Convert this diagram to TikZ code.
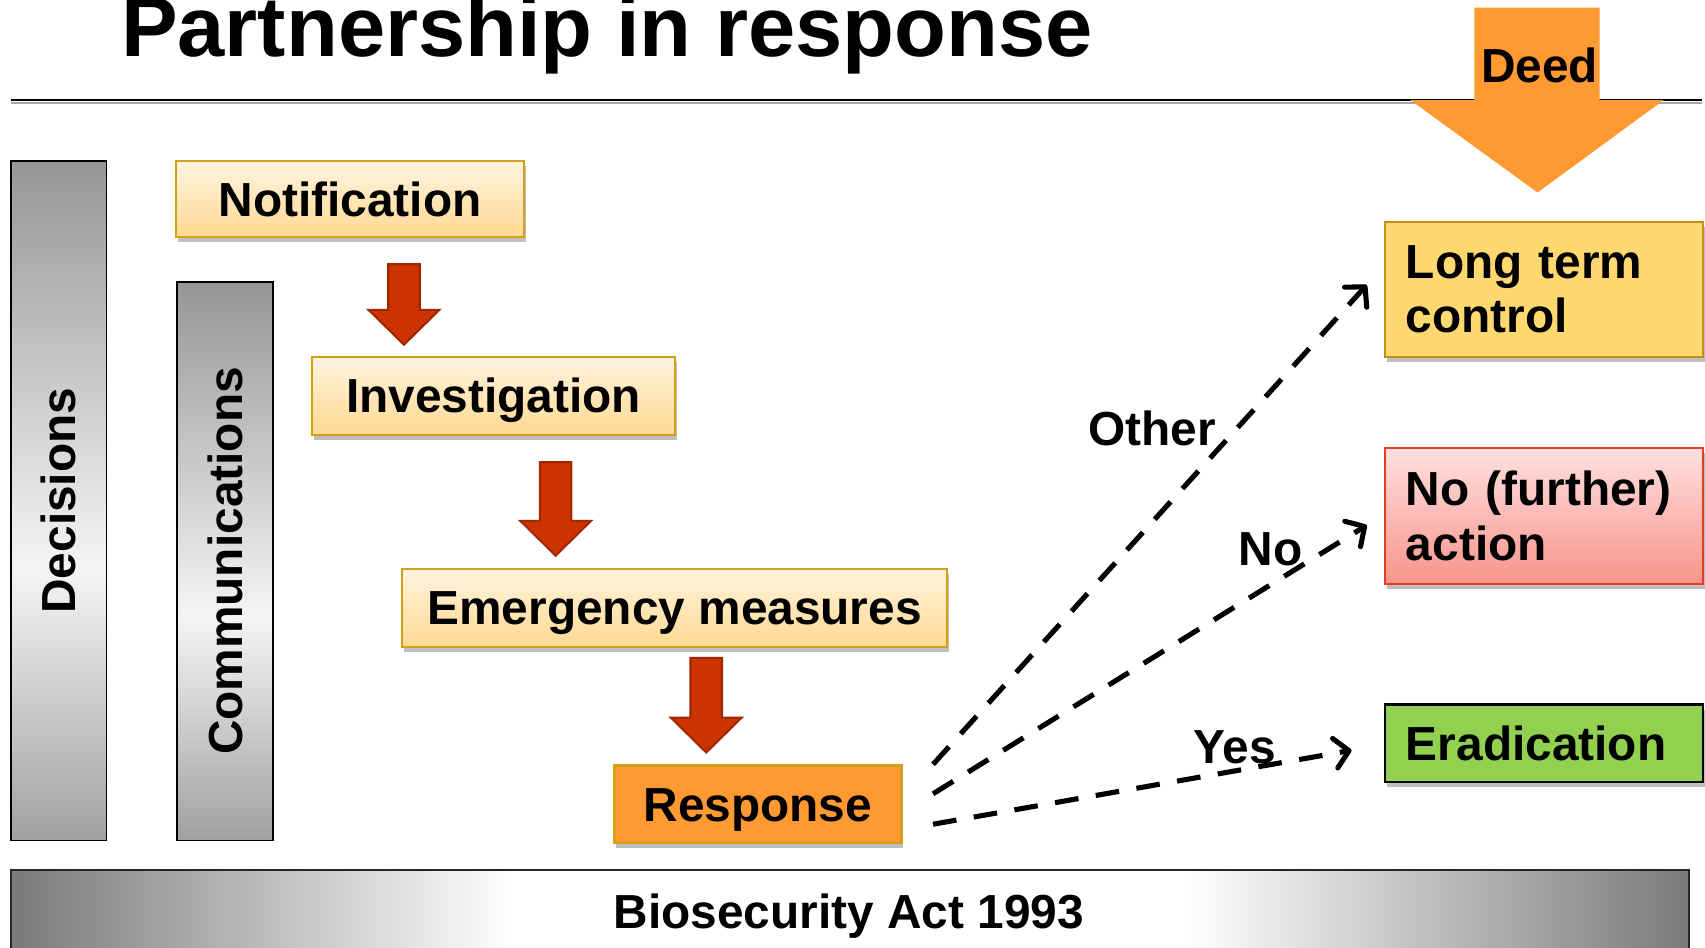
\documentclass[tikz,border=0pt]{standalone}
\usepackage{fontspec}
\setmainfont{Liberation Sans}
\usetikzlibrary{arrows.meta,shadows,calc}
\definecolor{boxtop}{HTML}{FFF4E0}
\definecolor{boxbot}{HTML}{FFD991}
\definecolor{gold}{HTML}{D4A017}
\definecolor{respor}{HTML}{FF9A33}
\definecolor{ltcfill}{HTML}{FFD970}
\definecolor{natop}{HTML}{FFE0E0}
\definecolor{nabot}{HTML}{F7958B}
\definecolor{naborder}{HTML}{E0401E}
\definecolor{erfill}{HTML}{92D050}
\definecolor{redfill}{HTML}{CC3300}
\definecolor{redline}{HTML}{A02800}
\definecolor{deedor}{HTML}{FF9A33}
\definecolor{bargray}{HTML}{969696}
\definecolor{biogray}{HTML}{7A7A7A}
\pgfdeclareverticalshading{vbar}{100bp}{color(0bp)=(bargray); color(25bp)=(bargray!90); color(45bp)=(white!96!black); color(75bp)=(bargray); color(100bp)=(bargray)}
\pgfdeclarehorizontalshading{hbar}{100bp}{color(0bp)=(biogray); color(25bp)=(biogray); color(40bp)=(white); color(60bp)=(white); color(75bp)=(biogray); color(100bp)=(biogray)}
\newcommand\pxl{0.021748cm}
\tikzset{
  lbl/.style={font=\bfseries\fontsize{27.2}{31}\selectfont},
  captext/.style={text height=19.5pt, text depth=0pt},
  sz/.style 2 args={minimum width={#1*\pxl}, minimum height={#2*\pxl}},
  shad/.style={drop shadow={shadow xshift=1pt, shadow yshift=-3pt, opacity=0.25, fill=black}},
  stepbox/.style={lbl, captext, draw=gold, line width=1.3pt, top color=boxtop, bottom color=boxbot, inner sep=0pt, shad},
  outbox/.style={lbl, line width=1.3pt, inner xsep={19*\pxl}, inner ysep=0pt, text width={254*\pxl}, align=left, shad},
  barbox/.style={draw=black, line width=1pt, shading=vbar, inner sep=0pt},
  bartext/.style={lbl, captext, inner sep=0pt, rotate=90},
  lab/.style={lbl, captext, inner sep=0pt},
  dconn/.style={line width=2.9pt, dash pattern=on 13.5pt off 10pt, -{Straight Barb[length=8pt,width=17pt,line cap=round,line join=round]}},
  redarr/.style={fill=redfill, draw=redline, line width=1.2pt, line join=miter},
  pics/redarrow/.style={code={
    \draw[redarr] (-14.5,0) -- (14.5,0) -- (14.5,{#1-32}) -- (32.5,{#1-32}) -- (0,#1) -- (-32.5,{#1-32}) -- (-14.5,{#1-32}) -- cycle;}}
}
\begin{document}
\begin{tikzpicture}[x=0.021748cm, y=-0.021748cm]
\useasboundingbox (0,0) rectangle (1568,871);
% title and rule
\node[anchor=base west, inner sep=0pt, font=\bfseries\fontsize{48.3}{58}\selectfont] (title) at (111,51.5) {Partnership in response};
\draw[black!35, line width=1pt] (10,94.5) -- (1565,94.5);
\draw[black, line width=1.1pt] (10,92) -- (1565,92);
% Deed arrow
\fill[deedor] (1356,7) -- (1471,7) -- (1471,92) -- (1530,92) -- (1414,177) -- (1297,92) -- (1356,92) -- cycle;
\node[lab] (deed) at (1416,60.5) {Deed};
% side bars
\node[barbox, sz={88}{625}] (dec) at (54,460.5) {};
\node[bartext] (dect) at (dec.center) {Decisions};
\node[barbox, sz={88}{514}] (com) at (207,516) {};
\node[bartext] (comt) at (com.center) {Communications};
% bottom bar
\node[draw=black!85, line width=1pt, shading=hbar, inner sep=0pt, sz={1543}{77}] (bio) at (781.5,838.5) {};
\node[lab] (biot) at (780.5,838.5) {Biosecurity Act 1993};
% steps
\node[stepbox, sz={320}{70}] (notif) at (322,183) {Notification};
\node[stepbox, sz={334}{72}] (inv) at (454,364) {Investigation};
\node[stepbox, sz={501}{72}] (emer) at (620.5,559) {Emergency measures};
\node[lbl, captext, draw=gold, line width=1.3pt, fill=respor, inner sep=0pt, shad, sz={264}{71}] (resp) at (697,739.5) {Response};
% red arrows
\pic at (371.5,243) {redarrow=74};
\pic at (511,425) {redarrow=86};
\pic at (649.5,605) {redarrow=87};
% outcomes
\node[outbox, draw=gold!90!black, fill=ltcfill, sz={292}{124}] (ltc) at (1420,266) {Long term\\control};
\node[outbox, draw=naborder, top color=natop, bottom color=nabot, sz={292}{125}] (na) at (1420,474.5) {No (further)\\action};
\node[outbox, captext, draw=black, fill=erfill, sz={292}{71}] (er) at (1420,683.5) {Eradication};
% connectors
\draw[dconn] ($(resp.north east)+(28,0)$) -- ($(ltc.west)+(-16,-4)$);
\draw[dconn] ($(resp.east)+(28,-9.5)$) -- ($(na.west)+(-16,8.5)$);
\draw[dconn] ($(resp.east)+(28,18.5)$) -- ($(er.west)+(-30,6.5)$);
\node[lab] (lother) at (1059.5,393.5) {Other};
\node[lab] (lno) at (1168.5,504) {No};
\node[lab] (lyes) at (1135.5,686) {Yes};
\end{tikzpicture}
\end{document}
